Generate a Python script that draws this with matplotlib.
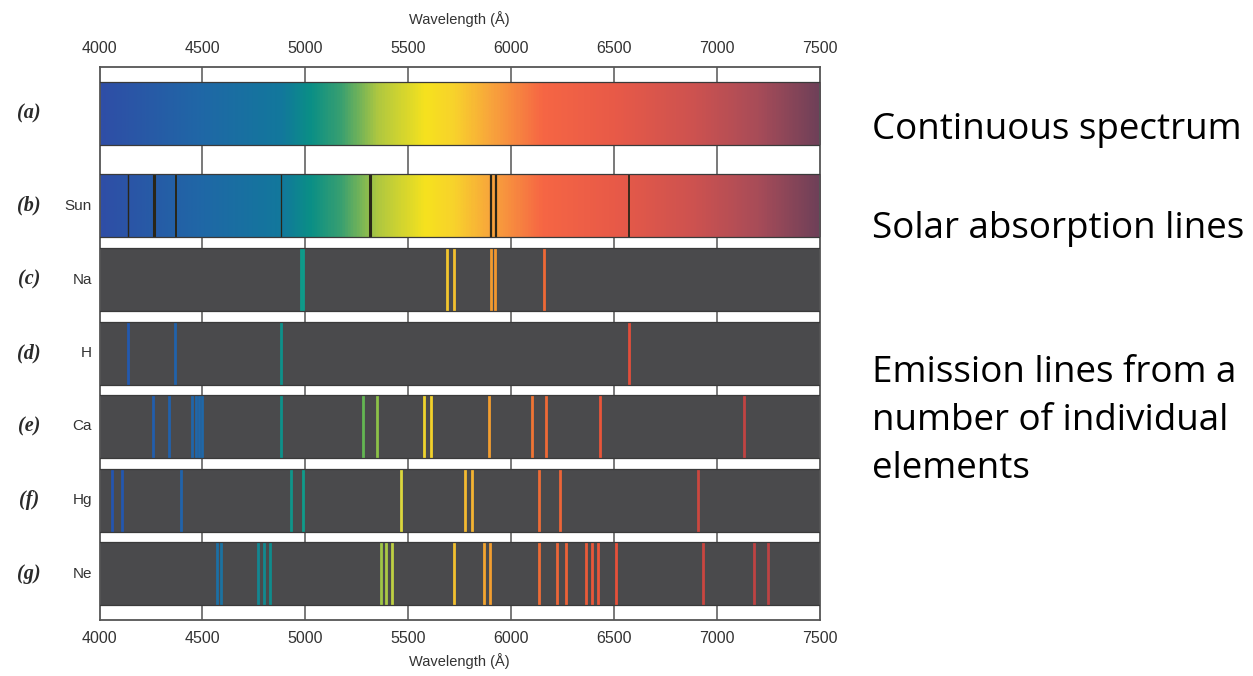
import numpy as np
import matplotlib
matplotlib.use("Agg")
import matplotlib.pyplot as plt
from matplotlib.colors import LinearSegmentedColormap, Normalize
from matplotlib.transforms import blended_transform_factory

# wavelength range and ticks (Angstrom)
wl_min, wl_max = 4000, 7500
ticks = [4000, 4500, 5000, 5500, 6000, 6500, 7000, 7500]

# line positions (Angstrom)
sun_lines = [4140, 4265, 4370, 4882, 5314, 5900, 5925, 6572]
sun_widths = [1.0, 2.2, 1.4, 0.9, 2.2, 1.6, 1.6, 1.3]
na_lines = [4977, 4990, 5690, 5724, 5902, 5923, 6161]
h_lines = [4137, 4367, 4882, 6572]
ca_lines = [4261, 4339, 4451, 4469, 4485, 4500, 4882, 5279, 5350, 5578, 5610,
            5892, 6103, 6169, 6433, 7132]
hg_lines = [4059, 4108, 4395, 4929, 4990, 5463, 5776, 5808, 6137, 6236, 6909]
ne_lines = [4569, 4590, 4771, 4801, 4828, 5368, 5390, 5421, 5724, 5868, 5897,
            6135, 6223, 6265, 6362, 6393, 6420, 6509, 6933, 7180, 7246]

panel_tags = ["(a)", "(b)", "(c)", "(d)", "(e)", "(f)", "(g)"]
element_names = ["", "Sun", "Na", "H", "Ca", "Hg", "Ne"]
emission_sets = [na_lines, h_lines, ca_lines, hg_lines, ne_lines]

side_lines = ["Continuous spectrum", "Solar absorption lines",
              "Emission lines from a", "number of individual", "elements"]

# colours of the spectrum, by wavelength
spec_stops = [(4000, "#2f4ea6"), (4500, "#1f68a6"), (4880, "#12789c"),
              (5020, "#0a8f86"), (5170, "#3aa070"), (5350, "#b0c840"),
              (5580, "#f6e21e"), (5720, "#f8d22c"), (5900, "#f8a43c"),
              (6150, "#f66644"), (6500, "#e85a48"), (6900, "#cc5250"),
              (7200, "#a84c58"), (7500, "#6e4058")]
line_stops = [(4000, "#2453b0"), (4500, "#2068a8"), (4850, "#0e8f8a"),
              (5050, "#10a08a"), (5300, "#6cb84c"), (5450, "#d8d840"),
              (5600, "#f2d22a"), (5800, "#f4b632"), (5950, "#f2902e"),
              (6150, "#ee6a36"), (6500, "#e8503a"), (6950, "#c84640"),
              (7500, "#b04048")]


def make_cmap(stops, name):
    pos = [(w - wl_min) / (wl_max - wl_min) for w, c in stops]
    return LinearSegmentedColormap.from_list(name, list(zip(pos, [c for w, c in stops])))


spec_cmap = make_cmap(spec_stops, "spec")
line_cmap = make_cmap(line_stops, "lines")
norm = Normalize(wl_min, wl_max)

W, H = 1253, 676
fig = plt.figure(figsize=(W / 100, H / 100), dpi=100)
fig.patch.set_facecolor("white")

# frame in pixels: x 99.5..820, y 67..620
fx0, fx1, fy0, fy1 = 99.5, 820, 67, 620
ax = fig.add_axes([fx0 / W, 1 - fy1 / H, (fx1 - fx0) / W, (fy1 - fy0) / H])
frame_h = fy1 - fy0
ax.set_xlim(wl_min, wl_max)
ax.set_ylim(frame_h, 0)

# strip tops (pixels below frame top), each strip 63 px tall
strip_tops = [15, 107, 181, 254.5, 328, 401.5, 475]
strip_h = 63

for t in ticks[1:-1]:
    ax.axvline(t, color="#555555", lw=1.1, zorder=1)

grad = np.linspace(wl_min, wl_max, 800).reshape(1, -1)
for i, top in enumerate(strip_tops):
    bot = top + strip_h
    if i < 2:
        ax.imshow(grad, cmap=spec_cmap, norm=norm, aspect="auto",
                  extent=[wl_min, wl_max, bot, top], zorder=2, interpolation="bilinear")
    else:
        ax.fill_between([wl_min, wl_max], top, bot, color="#4a4a4c", lw=0, zorder=2)
    ax.plot([wl_min, wl_max], [top, top], color="#3a3a3a", lw=0.9, zorder=4)
    ax.plot([wl_min, wl_max], [bot, bot], color="#3a3a3a", lw=0.9, zorder=4)

# solar absorption lines
top = strip_tops[1]
ax.vlines(sun_lines, top, top + strip_h, colors="#2a2618", lw=sun_widths, zorder=3)

# emission lines
for k, lines in enumerate(emission_sets):
    top = strip_tops[k + 2]
    ax.vlines(lines, top, top + strip_h, colors=line_cmap(norm(np.array(lines))),
              lw=2.0, zorder=3)

ax.set_xticks(ticks)
ax.set_yticks([])
ax.tick_params(axis="x", length=0, labeltop=True, labelbottom=True, pad=8,
               labelsize=11.5, labelcolor="#333333")
for lab in ax.get_xticklabels():
    lab.set_fontfamily("Liberation Sans")
for s in ax.spines.values():
    s.set_color("#555555")
    s.set_linewidth(1.3)

cx = (fx0 + fx1) / 2 / W
fig.text(cx, 1 - 19 / H, "Wavelength (Å)", ha="center", va="center",
         fontsize=10.5, color="#333333", family="Liberation Sans")
fig.text(cx, 1 - 661 / H, "Wavelength (Å)", ha="center", va="center",
         fontsize=10.5, color="#333333", family="Liberation Sans")

tr = blended_transform_factory(fig.transFigure, ax.transData)
for i, top in enumerate(strip_tops):
    mid = top + strip_h / 2
    ax.text(29 / W, mid, panel_tags[i], transform=tr, ha="center", va="center",
            fontsize=14.5, fontweight="bold", fontstyle="italic",
            family="Liberation Serif", color="#2a2a2a")
    if element_names[i]:
        ax.text(92 / W, mid, element_names[i], transform=tr, ha="right", va="center",
                fontsize=11, family="Liberation Sans", color="#333333")

# baselines of the notes on the right (pixels from top)
note_base = [139, 238, 382, 430, 478]
for txt, y in zip(side_lines, note_base):
    fig.text(872 / W, 1 - y / H, txt, ha="left", va="baseline", fontsize=26.5,
             family="Open Sans", color="black")

fig.savefig("out.png", dpi=100)
